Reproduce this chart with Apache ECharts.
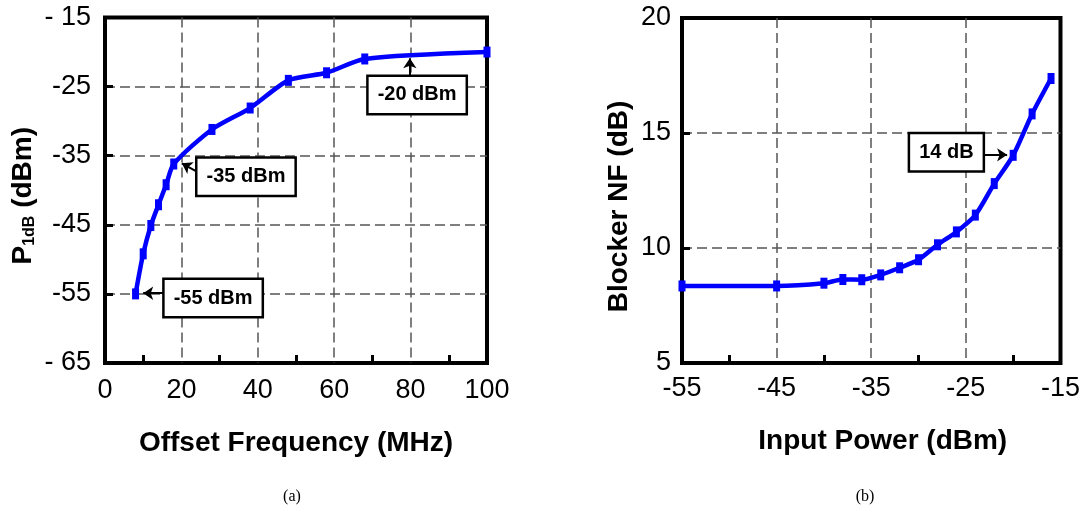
<!DOCTYPE html>
<html><head><meta charset="utf-8">
<script src="https://cdn.jsdelivr.net/npm/echarts@6/dist/echarts.min.js"></script>
<style>html,body{margin:0;padding:0;background:#fff}#c{width:1083px;height:506px}</style>
</head><body><div id="c"></div>
<script>
// ---- (a) P1dB versus offset frequency ----
const offsetFreqMHz = [8, 10, 12, 14, 16, 18, 28, 38, 48, 58, 68, 100];
const p1dBdBm = [-55, -49.2, -45.1, -42.1, -39.2, -36.2, -31.2, -28.1, -24.1, -23.0, -21.0, -20.0];
// ---- (b) Blocker NF versus input power ----
const inputPowerDBm = [-55, -45, -40, -38, -36, -34, -32, -30, -28, -26, -24, -22, -20, -18, -16];
const blockerNFdB = [8.35, 8.35, 8.47, 8.63, 8.62, 8.83, 9.14, 9.49, 10.14, 10.70, 11.43, 12.8, 14.03, 15.83, 17.37];

// ---- tick values / labels ----
const xTicksA = [0, 20, 40, 60, 80, 100];
const xGridA = [20, 40, 60, 80];
const yTicksA = [-65, -55, -45, -35, -25, -15];
const yGridA = [-55, -45, -35, -25];
const yTickLabelsA = ['- 65', '-55', '-45', '-35', '-25', '- 15'];
const xTicksB = [-55, -45, -35, -25, -15];
const xGridB = [-45, -35, -25];
const xMinorTicksB = [-50, -40, -30, -20];
const yTicksB = [5, 10, 15, 20];
const yGridB = [10, 15];

// ---- callouts (data coordinates) ----
const calloutTextA = ['-55 dBm', '-35 dBm', '-20 dBm'];
const calloutAtA = [[28.3, -55.6], [36.9, -38.05], [81.7, -26.2]];
const arrowFromA = [[15.7, -54.9], [24.4, -37.4], [79.8, -23.5]];
const arrowToA = [[10.0, -54.9], [20.1, -36.1], [79.8, -20.9]];
const calloutTextB = ['14 dB'];
const calloutAtB = [[-27.06, 14.16]];
const arrowFromB = [[-23.04, 14.05]];
const arrowToB = [[-20.64, 14.05]];

const axisTitleA = 'Offset Frequency (MHz)';
const axisTitleB = 'Input Power (dBm)';
const yTitleB = 'Blocker NF (dB)';

function fontAvailable(name) {
  const ctx = document.createElement('canvas').getContext('2d');
  const t = 'Offset Frequency (MHz) mmwwiill';
  ctx.font = 'bold 40px monospace';
  const a = ctx.measureText(t).width;
  ctx.font = 'bold 40px "' + name + '", monospace';
  const b = ctx.measureText(t).width;
  return Math.abs(a - b) > 0.5;
}
const narrow = fontAvailable('Liberation Sans Narrow');
const SANS = '"Liberation Sans", Arial, sans-serif';
const TF = narrow ? '"Liberation Sans Narrow", "Liberation Sans", sans-serif' : SANS;
const TS = narrow ? 34 : 28;
const SS = narrow ? 19 : 16;

const BLUE = '#0000ff';
const gridLine = { show: true, lineStyle: { color: '#555', width: 1.5, type: [10, 5] } };
const tickLabel = { color: '#000', fontSize: 27, lineHeight: 27, fontFamily: SANS };
const tickLine = { color: '#000', width: 3 };
const titleStyle = { color: '#000', fontFamily: TF, fontWeight: 'bold', fontSize: TS, lineHeight: TS };

function callouts(texts, at) {
  return {
    silent: true, symbol: 'rect', symbolSize: 1,
    itemStyle: { color: 'rgba(0,0,0,0)' },
    label: {
      show: true, position: 'inside', formatter: '{b}',
      color: '#000', fontFamily: SANS, fontWeight: 'bold', fontSize: 20, lineHeight: 20,
      backgroundColor: '#fff', borderColor: '#000', borderWidth: 2.5, padding: [8, 9]
    },
    data: texts.map((t, i) => ({ name: t, coord: at[i] }))
  };
}
function arrows(from, to) {
  return {
    silent: true, symbol: ['none', 'arrow'], symbolSize: 10,
    lineStyle: { color: '#000', width: 2, type: 'solid' },
    label: { show: false },
    data: from.map((f, i) => [{ coord: f }, { coord: to[i] }])
  };
}

const chart = echarts.init(document.getElementById('c'), null, { renderer: 'canvas' });
chart.setOption({
  animation: false,
  backgroundColor: '#fff',
  grid: [
    { left: 105, top: 16, width: 382, height: 347, show: true, borderColor: '#000', borderWidth: 4, backgroundColor: 'transparent' },
    { left: 682, top: 15, width: 382, height: 348, show: true, borderColor: '#000', borderWidth: 4, backgroundColor: 'transparent' }
  ],
  xAxis: [
    {
      type: 'value', gridIndex: 0, min: xTicksA[0], max: xTicksA[xTicksA.length - 1], interval: 20,
      axisLine: { show: false },
      axisTick: { show: false, inside: true, customValues: xGridA },
      minorTick: { show: true, splitNumber: 2, length: 8, lineStyle: tickLine },
      axisLabel: Object.assign({ margin: 14, customValues: xTicksA }, tickLabel),
      splitLine: gridLine,
      name: axisTitleA, nameLocation: 'middle', nameGap: 80 - TS / 2,
      nameTextStyle: titleStyle
    },
    {
      type: 'value', gridIndex: 1, min: xTicksB[0], max: xTicksB[xTicksB.length - 1],
      axisLine: { show: false },
      axisTick: { show: false, customValues: xGridB },
      axisLabel: Object.assign({ margin: 12, customValues: xTicksB }, tickLabel),
      splitLine: gridLine,
      name: axisTitleB, nameLocation: 'middle', nameGap: 78 - TS / 2,
      nameTextStyle: Object.assign({ padding: [0, 0, 0, 23] }, titleStyle)
    },
    {
      type: 'value', gridIndex: 1, position: 'bottom', min: xTicksB[0], max: xTicksB[xTicksB.length - 1],
      axisLine: { show: false },
      axisTick: { show: true, inside: true, length: 8, customValues: xMinorTicksB, lineStyle: tickLine },
      axisLabel: { show: false },
      splitLine: { show: false }
    }
  ],
  yAxis: [
    {
      type: 'value', gridIndex: 0, min: yTicksA[0], max: yTicksA[yTicksA.length - 1],
      axisLine: { show: false },
      axisTick: { show: true, inside: true, length: 8, customValues: yGridA, lineStyle: tickLine },
      axisLabel: Object.assign({ margin: 14, padding: [8, 0, 0, 0], customValues: yTicksA,
        formatter: v => yTickLabelsA[yTicksA.indexOf(v)] ?? String(v) }, tickLabel),
      splitLine: gridLine,
      name: '{p|P}{s|1dB}{p| (dBm)}', nameLocation: 'middle', nameRotate: 90, nameGap: 104 - 22.5 - TS / 2,
      nameTextStyle: Object.assign({ padding: [0, 11, 0, 0], rich: {
        p: { fontFamily: TF, fontWeight: 'bold', fontSize: TS, lineHeight: TS, color: '#000', verticalAlign: 'bottom' },
        s: { fontFamily: TF, fontWeight: 'bold', fontSize: SS, lineHeight: SS, color: '#000', verticalAlign: 'bottom' }
      } }, titleStyle)
    },
    {
      type: 'value', gridIndex: 1, min: yTicksB[0], max: yTicksB[yTicksB.length - 1], interval: 5,
      axisLine: { show: false },
      axisTick: { show: true, inside: true, length: 8, customValues: yGridB, lineStyle: tickLine },
      axisLabel: Object.assign({ margin: 11, padding: [9, 0, 0, 0], customValues: yTicksB }, tickLabel),
      splitLine: gridLine,
      name: yTitleB, nameLocation: 'middle', nameRotate: 90, nameGap: 682 - 619 - TS / 2,
      nameTextStyle: Object.assign({ padding: [0, 32, 0, 0] }, titleStyle)
    }
  ],
  series: [
    {
      type: 'line', xAxisIndex: 0, yAxisIndex: 0,
      data: offsetFreqMHz.map((x, i) => [x, p1dBdBm[i]]),
      smooth: 0.25, clip: false,
      lineStyle: { color: BLUE, width: 4.5 },
      itemStyle: { color: BLUE },
      symbol: 'rect', symbolSize: [7, 11], showSymbol: true,
      markPoint: callouts(calloutTextA, calloutAtA),
      markLine: arrows(arrowFromA, arrowToA)
    },
    {
      type: 'line', xAxisIndex: 1, yAxisIndex: 1,
      data: inputPowerDBm.map((x, i) => [x, blockerNFdB[i]]),
      smooth: 0.25, clip: false,
      lineStyle: { color: BLUE, width: 4.5 },
      itemStyle: { color: BLUE },
      symbol: 'rect', symbolSize: [7, 11], showSymbol: true,
      markPoint: callouts(calloutTextB, calloutAtB),
      markLine: arrows(arrowFromB, arrowToB)
    }
  ],
  graphic: [
    { type: 'text', x: 292, y: 497, style: { text: '(a)', fontSize: 16, fontFamily: '"Liberation Serif", "DejaVu Serif", serif', fill: '#000', align: 'center', verticalAlign: 'middle' } },
    { type: 'text', x: 865, y: 497, style: { text: '(b)', fontSize: 16, fontFamily: '"Liberation Serif", "DejaVu Serif", serif', fill: '#000', align: 'center', verticalAlign: 'middle' } }
  ]
});
</script>
</body></html>
